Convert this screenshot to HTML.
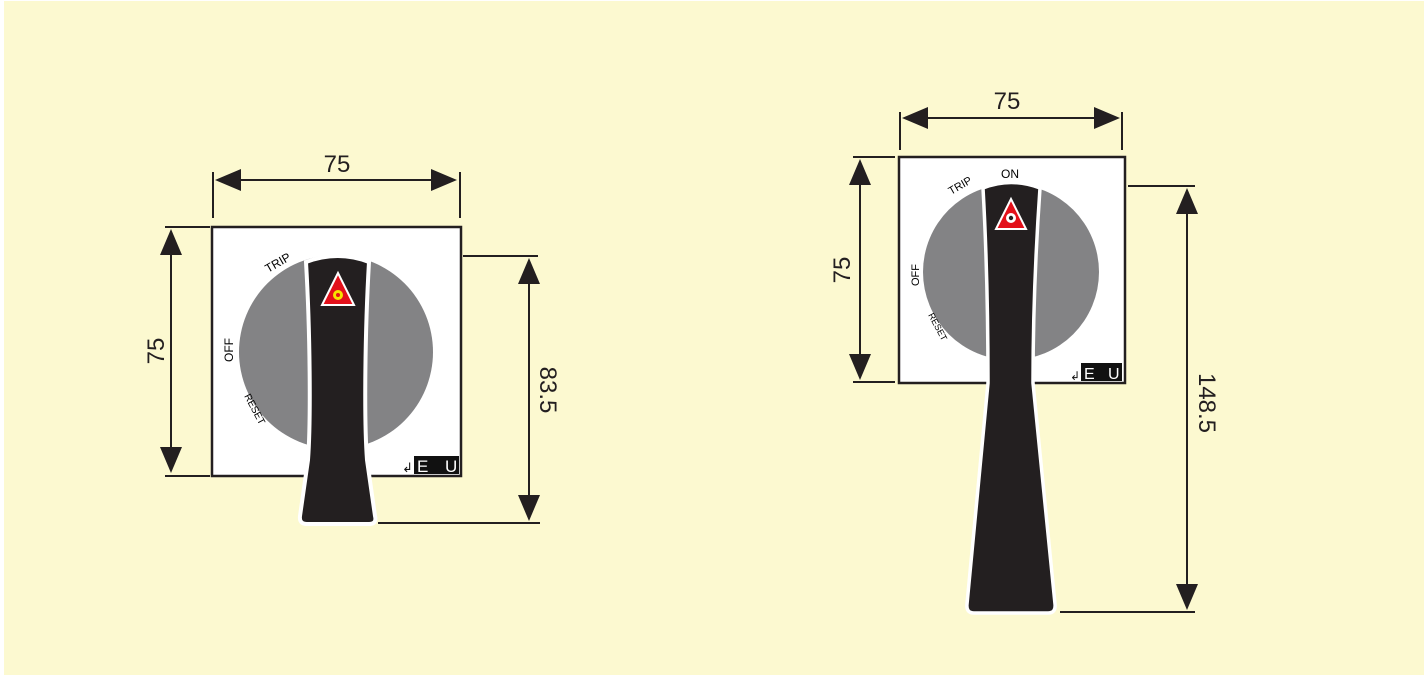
<!DOCTYPE html>
<html><head><meta charset="utf-8"><style>
html,body{margin:0;padding:0;background:#fff}
svg{display:block}
text{font-family:"Liberation Sans",sans-serif}
</style></head><body>
<svg width="1424" height="675" viewBox="0 0 1424 675" xmlns="http://www.w3.org/2000/svg">
<rect x="0" y="0" width="1424" height="675" fill="#fff"/>
<rect x="4" y="1" width="1420" height="674" fill="#fcf9d0"/>

<!-- LEFT -->
<rect x="212" y="227" width="249" height="249" fill="#fff" stroke="#231f20" stroke-width="2.5"/>
<circle cx="336" cy="352" r="97" fill="#838385"/>
<path d="M306,262 Q338,250 369,262 C365,330 364,420 367,460 L375,516 Q377,524 369,524 L307,524 Q299,524 300,516 L308,460 C311,420 310,330 306,262 Z" fill="#231f20" stroke="#fff" stroke-width="4"/>
<polygon points="338,273 322,305 354,305" fill="#e3101a" stroke="#fff" stroke-width="2"/>
<circle cx="338" cy="295" r="5" fill="#f7e300"/><circle cx="338" cy="295" r="2" fill="#e3101a"/>
<text x="0" y="0" font-size="12" transform="translate(268,273) rotate(-30)">TRIP</text>
<text x="0" y="0" font-size="12" transform="translate(233,362) rotate(-90)">OFF</text>
<text x="0" y="0" font-size="10" transform="translate(244,396) rotate(62)">RESET</text>
<rect x="414" y="456" width="45" height="18" fill="#111"/>
<text x="417" y="472" font-size="17" fill="#fff">E</text><text x="445" y="472" font-size="17" fill="#fff">U</text>
<text x="402" y="472" font-size="13" fill="#111">↲</text>

<g stroke="#231f20" stroke-width="2" fill="none">
<line x1="213" y1="172" x2="213" y2="218"/><line x1="460" y1="172" x2="460" y2="218"/>
<line x1="225" y1="180" x2="448" y2="180"/>
<line x1="165" y1="227" x2="210" y2="227"/><line x1="165" y1="476" x2="210" y2="476"/>
<line x1="171" y1="240" x2="171" y2="462"/>
<line x1="463" y1="256" x2="538" y2="256"/><line x1="378" y1="523" x2="540" y2="523"/>
<line x1="529" y1="270" x2="529" y2="510"/>
</g>
<g fill="#231f20">
<polygon points="215,180 241,169 241,191"/><polygon points="457,180 431,169 431,191"/>
<polygon points="171,229 160,255 182,255"/><polygon points="171,473 160,447 182,447"/>
<polygon points="529,258 518,284 540,284"/><polygon points="529,521 518,495 540,495"/>
</g>
<text x="337" y="172" font-size="24" text-anchor="middle" fill="#231f20">75</text>
<text x="0" y="0" font-size="24" text-anchor="middle" fill="#231f20" transform="translate(164,351) rotate(-90)">75</text>
<text x="0" y="0" font-size="24" text-anchor="middle" fill="#231f20" transform="translate(540,390) rotate(90)">83.5</text>

<!-- RIGHT -->
<rect x="899" y="157" width="226" height="226" fill="#fff" stroke="#231f20" stroke-width="2.5"/>
<circle cx="1011" cy="272" r="88" fill="#838385"/>
<path d="M983,188 Q1011,177 1040,188 C1035,260 1033,330 1033,383 L1055,604 Q1056,613 1048,613 L974,613 Q966,613 967,604 L988,383 C988,330 987,260 983,188 Z" fill="#231f20" stroke="#fff" stroke-width="3.5"/>
<polygon points="1011,199 996,229 1026,229" fill="#e3101a" stroke="#fff" stroke-width="2"/>
<circle cx="1011" cy="218" r="5" fill="#fff"/><circle cx="1011" cy="218" r="2.2" fill="#231f20"/>
<text x="1010" y="178" font-size="12" text-anchor="middle">ON</text>
<text x="0" y="0" font-size="11" transform="translate(951,195) rotate(-30)">TRIP</text>
<text x="0" y="0" font-size="11" transform="translate(919,286) rotate(-90)">OFF</text>
<text x="0" y="0" font-size="9" transform="translate(928,315) rotate(62)">RESET</text>
<rect x="1081" y="363" width="41" height="18" fill="#111"/>
<text x="1084" y="379" font-size="16" fill="#fff">E</text><text x="1108" y="379" font-size="16" fill="#fff">U</text>
<text x="1070" y="380" font-size="12" fill="#111">↲</text>

<g stroke="#231f20" stroke-width="2" fill="none">
<line x1="900" y1="112" x2="900" y2="150"/><line x1="1122" y1="112" x2="1122" y2="150"/>
<line x1="912" y1="118" x2="1110" y2="118"/>
<line x1="853" y1="157" x2="895" y2="157"/><line x1="853" y1="382" x2="895" y2="382"/>
<line x1="860" y1="170" x2="860" y2="369"/>
<line x1="1128" y1="186" x2="1195" y2="186"/><line x1="1060" y1="612" x2="1195" y2="612"/>
<line x1="1187" y1="200" x2="1187" y2="598"/>
</g>
<g fill="#231f20">
<polygon points="902,118 928,107 928,129"/><polygon points="1120,118 1094,107 1094,129"/>
<polygon points="860,159 849,185 871,185"/><polygon points="860,380 849,354 871,354"/>
<polygon points="1187,188 1176,214 1198,214"/><polygon points="1187,610 1176,584 1198,584"/>
</g>
<text x="1007" y="109" font-size="24" text-anchor="middle" fill="#231f20">75</text>
<text x="0" y="0" font-size="24" text-anchor="middle" fill="#231f20" transform="translate(850,270) rotate(-90)">75</text>
<text x="0" y="0" font-size="24" text-anchor="middle" fill="#231f20" transform="translate(1199,403) rotate(90)">148.5</text>
</svg>
</body></html>
